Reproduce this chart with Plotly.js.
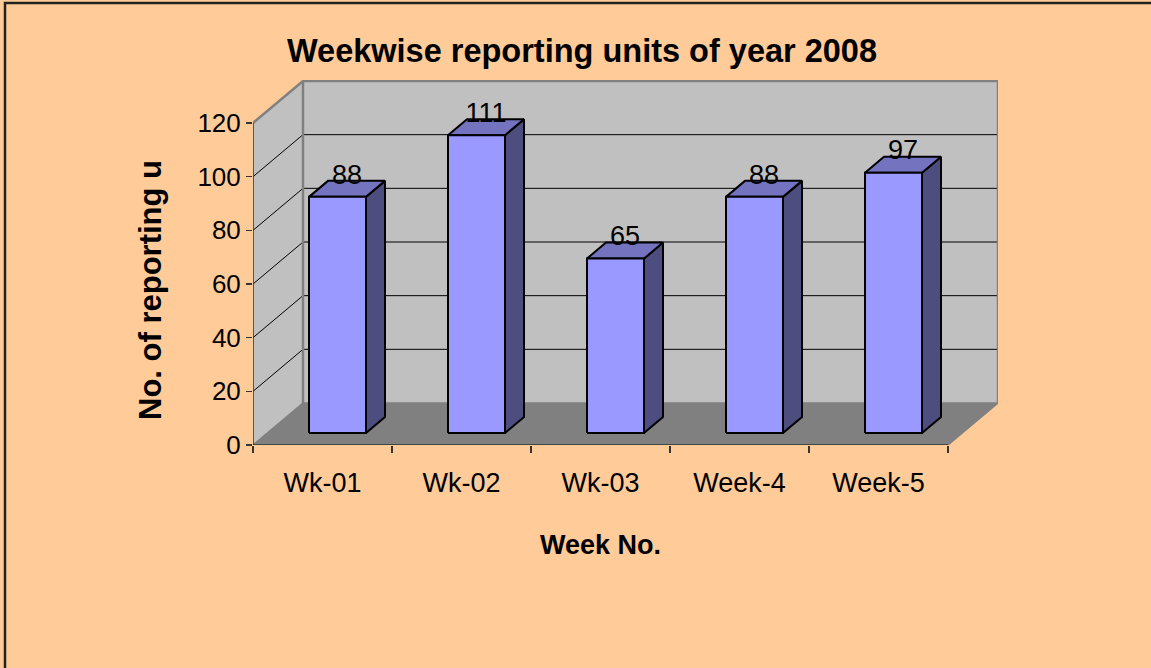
<!DOCTYPE html>
<html>
<head>
<meta charset="utf-8">
<script src="https://cdn.plot.ly/plotly-3.0.1.min.js"></script>
<style>html,body{margin:0;padding:0;background:#FFCC99;} #chart{width:1151px;height:668px;}</style>
</head>
<body>
<div id="chart"></div>
<script>
// ---- data ----
const categories = ['Wk-01', 'Wk-02', 'Wk-03', 'Week-4', 'Week-5'];
const values = [88, 111, 65, 88, 97];
const yTickValues = [0, 20, 40, 60, 80, 100, 120];
const gridValues = [20, 40, 60, 80, 100];

// ---- geometry (pixels of the pseudo-3D frame) ----
const W = 1151, H = 668;
const PL = 253, PR = 998, PT = 80, PB = 445;   // plot area
const FRONT_R = 948, AXIS_TOP = 123, YMAX = 120;
const n = categories.length;
const kx = (FRONT_R - PL) / n;            // px per category
const ky = (PB - AXIS_TOP) / YMAX;        // px per unit
const DX = 50 / kx, DY = 42 / ky;         // wall depth
const HW = 28.5 / kx;                     // bar half width
const SX = 15 / kx, SY = 12 / ky;         // bar front offset into depth
const BX = 19 / kx, BY = 16 / ky;         // bar depth
const X0 = -0.5, X1 = n - 0.5;

const FONT = '"Liberation Sans", Arial, sans-serif';

function poly(list, fill, lineColor, lineWidth) {
  const xs = [], ys = [];
  list.forEach((p, k) => {
    if (k) { xs.push(null); ys.push(null); }
    p.forEach(pt => { xs.push(pt[0]); ys.push(pt[1]); });
    xs.push(p[0][0]); ys.push(p[0][1]);
  });
  return {type: 'scatter', mode: 'lines', x: xs, y: ys, fill: 'toself', fillcolor: fill,
          line: {color: lineColor, width: lineWidth}, hoverinfo: 'skip', showlegend: false};
}
function lines(list, color, width) {
  const xs = [], ys = [];
  list.forEach((p, k) => {
    if (k) { xs.push(null); ys.push(null); }
    p.forEach(pt => { xs.push(pt[0]); ys.push(pt[1]); });
  });
  return {type: 'scatter', mode: 'lines', x: xs, y: ys, line: {color: color, width: width},
          hoverinfo: 'skip', showlegend: false};
}

const traces = [];
// back wall
traces.push(poly([[[X0 + DX, DY], [X1 + DX, DY], [X1 + DX, YMAX + DY], [X0 + DX, YMAX + DY]]], '#C0C0C0', '#C0C0C0', 0.5));
// left wall
traces.push(poly([[[X0, 0], [X0 + DX, DY], [X0 + DX, YMAX + DY], [X0, YMAX]]], '#C0C0C0', '#C0C0C0', 0.5));
// gridlines
traces.push(lines(gridValues.map(v => [[X0, v], [X0 + DX, v + DY], [X1 + DX, v + DY]]), '#000000', 1));
// wall edges
traces.push(lines([
  [[X0, YMAX], [X0 + DX, YMAX + DY], [X1 + DX, YMAX + DY], [X1 + DX, DY]],
  [[X0 + DX, DY], [X0 + DX, YMAX + DY]]
], '#808080', 2.5));
// floor
traces.push(poly([[[X0, 0], [X1, 0], [X1 + DX, DY], [X0 + DX, DY]]], '#808080', '#808080', 1.5));
// front axes
traces.push(lines([[[X0, YMAX], [X0, 0], [X1, 0]]], '#333333', 1.5));

// bars
const fronts = [], sides = [], tops = [];
values.forEach((v, i) => {
  const a = i - HW + SX, b = i + HW + SX, y0 = SY, y1 = v + SY;
  fronts.push([[a, y0], [b, y0], [b, y1], [a, y1]]);
  sides.push([[b, y0], [b + BX, y0 + BY], [b + BX, y1 + BY], [b, y1]]);
  tops.push([[a, y1], [b, y1], [b + BX, y1 + BY], [a + BX, y1 + BY]]);
});
traces.push(poly(sides, '#4D4D80', '#000000', 2));
traces.push(poly(tops, '#7373BF', '#000000', 2));
traces.push(poly(fronts, '#9999FF', '#000000', 2));

// data labels
traces.push({
  type: 'scatter', mode: 'text',
  x: values.map((v, i) => i + SX + BX / 2),
  y: values.map(v => v + SY + BY / 2 + 12 / ky),
  text: values.map(String), textposition: 'middle center',
  textfont: {family: FONT, size: 27, color: '#000000'},
  hoverinfo: 'skip', showlegend: false, cliponaxis: false
});

const toPx = px => (px - PL) / (PR - PL);
const toPy = py => (PB - py) / (PB - PT);

const layout = {
  width: W, height: H,
  margin: {l: PL, r: W - PR, t: PT, b: H - PB, pad: 0},
  paper_bgcolor: '#FFCC99', plot_bgcolor: 'rgba(0,0,0,0)',
  showlegend: false,
  title: {
    text: 'Weekwise reporting units of year 2008',
    font: {family: FONT, size: 32.5, color: '#000000', weight: 'bold'},
    x: 582 / W, xref: 'container', xanchor: 'center',
    y: 1 - 51 / H, yref: 'container', yanchor: 'middle'
  },
  xaxis: {
    range: [X0, X0 + (PR - PL) / kx], fixedrange: true,
    tickmode: 'array', tickvals: categories.map((c, i) => i), ticktext: categories,
    ticks: '', ticklabelstandoff: 19,
    tickfont: {family: FONT, size: 27, color: '#000000'},
    minor: {tick0: -0.5, dtick: 1, ticks: 'outside', ticklen: 7, tickwidth: 1.5, tickcolor: '#333333', showgrid: false},
    showgrid: false, zeroline: false, showline: false
  },
  yaxis: {
    range: [0, (PB - PT) / ky], fixedrange: true,
    tickmode: 'array', tickvals: yTickValues,
    ticks: 'outside', ticklen: 6, tickwidth: 1.5, tickcolor: '#333333',
    tickfont: {family: FONT, size: 26, color: '#000000'},
    showgrid: false, zeroline: false, showline: false
  },
  annotations: [
    {text: 'Week No.', xref: 'paper', yref: 'paper', x: toPx(600), y: toPy(545),
     xanchor: 'center', yanchor: 'middle', showarrow: false,
     font: {family: FONT, size: 27, color: '#000000', weight: 'bold'}},
    {text: 'No. of reporting u', xref: 'paper', yref: 'paper', x: toPx(150), y: toPy(422),
     xanchor: 'center', yanchor: 'bottom', showarrow: false, textangle: -90,
     font: {family: FONT, size: 31, color: '#000000', weight: 'bold'}}
  ],
  shapes: [
    {type: 'rect', xref: 'paper', yref: 'paper', x0: toPx(5), x1: toPx(1160), y0: toPy(675), y1: toPy(3),
     line: {color: '#222222', width: 2.5}, fillcolor: 'rgba(0,0,0,0)', layer: 'above'}
  ]
};

Plotly.newPlot('chart', traces, layout, {displayModeBar: false, staticPlot: true});
</script>
</body>
</html>
